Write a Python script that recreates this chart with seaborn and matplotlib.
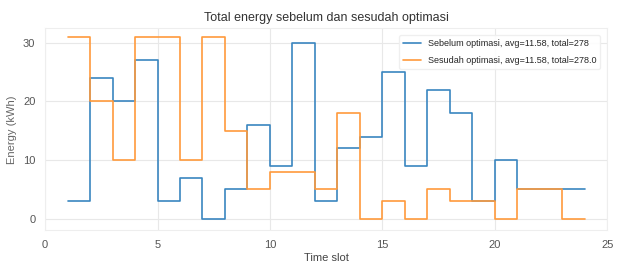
import matplotlib
matplotlib.use('Agg')
import matplotlib.pyplot as plt
import seaborn as sns
import pandas as pd

time_slot = list(range(1, 25))
sebelum = [3, 24, 20, 27, 3, 7, 0, 5, 16, 9, 30, 3, 12, 14, 25, 9, 22, 18, 3, 10, 5, 5, 5, 5]
sesudah = [31, 20, 10, 31, 31, 10, 31, 15, 5, 8, 8, 5, 18, 0, 3, 0, 5, 3, 3, 0, 5, 5, 0, 0]
label_sebelum = 'Sebelum optimasi, avg=11.58, total=278'
label_sesudah = 'Sesudah optimasi, avg=11.58, total=278.0'

df = pd.DataFrame({
    'slot': time_slot * 2,
    'energy': sebelum + sesudah,
    'series': [label_sebelum] * len(time_slot) + [label_sesudah] * len(time_slot),
})

sns.set_style('whitegrid')
plt.rcParams['font.family'] = ['Liberation Sans', 'DejaVu Sans']

fig, ax = plt.subplots(figsize=(6.26, 2.68), dpi=100)
sns.lineplot(data=df, x='slot', y='energy', hue='series', drawstyle='steps-post',
             palette=['#3a86c0', '#ff9a3c'], linewidth=1.2, ax=ax)

ax.set_xlim(0, 25)
ax.set_ylim(-2, 32.5)
ax.set_xticks([0, 5, 10, 15, 20, 25])
ax.set_yticks([0, 10, 20, 30])
ax.tick_params(labelsize=8, colors='#555555')
ax.grid(color='#e8e8e8', linewidth=0.8)
for s in ax.spines.values():
    s.set_color('#eeeeee')
ax.set_title('Total energy sebelum dan sesudah optimasi', fontsize=9, pad=5, color='#333333')
ax.set_xlabel('Time slot', fontsize=8, labelpad=2, color='#444444')
ax.set_ylabel('Energy (kWh)', fontsize=8, color='#666666')
ax.legend(loc='upper right', fontsize=6.5, frameon=True, framealpha=0.9,
          edgecolor='#eeeeee', labelspacing=0.9, borderaxespad=0.8)

fig.subplots_adjust(left=0.072, right=0.97, top=0.895, bottom=0.14)
fig.savefig('out.png', dpi=100)
plt.close(fig)
